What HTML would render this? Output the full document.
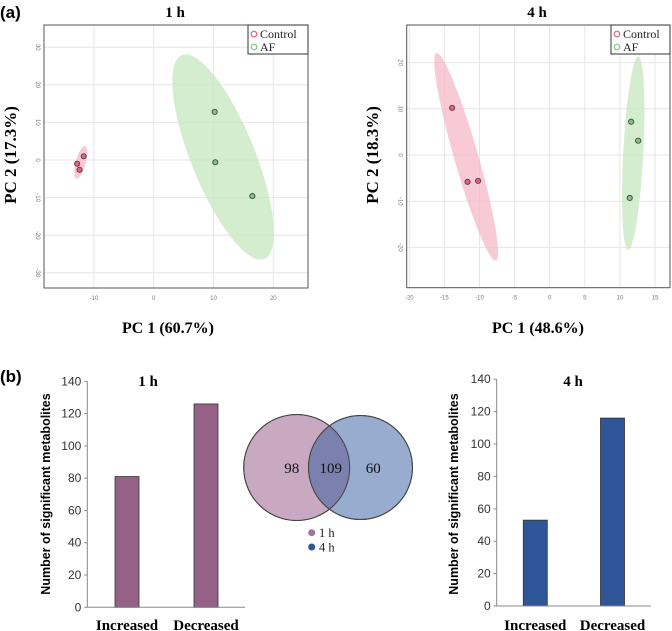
<!DOCTYPE html>
<html><head><meta charset="utf-8">
<style>
html,body{margin:0;padding:0;background:#fff;}
svg{display:block;}
.serif{font-family:"Liberation Serif",serif;}
.sans{font-family:"Liberation Sans",sans-serif;}
</style></head>
<body>
<svg id="fig" width="672" height="631" viewBox="0 0 672 631" xmlns="http://www.w3.org/2000/svg">
<text x="0" y="18" class="sans" font-weight="bold" font-size="17">(a)</text>
<text x="0" y="382" class="sans" font-weight="bold" font-size="17">(b)</text>
<g id="pca1"></g>
<g id="pca4"></g>
<g id="bar1"></g>
<g id="bar4"></g>
<g id="venn"></g>
</svg>
<script>
// ---- PCA 1 h data ----
const pca1XTicks = [-10, 0, 10, 20];
const pca1YTicks = [30, 20, 10, 0, -10, -20, -30];
const pca1ControlX = [-11.7, -12.8, -12.4];
const pca1ControlY = [1.0, -1.0, -2.6];
const pca1AfX = [10.2, 10.3, 16.5];
const pca1AfY = [12.8, -0.6, -9.6];
// ellipses: center x, center y (data units)
const pca1CtrlEllipse = [-12.2, -0.6];
const pca1AfEllipse = [11.6, 0.8];
// ---- PCA 4 h data ----
const pca4XTicks = [-20, -15, -10, -5, 0, 5, 10, 15];
const pca4YTicks = [20, 10, 0, -10, -20];
const pca4ControlX = [-13.9, -11.7, -10.2];
const pca4ControlY = [10.2, -5.8, -5.6];
const pca4AfX = [11.6, 12.6, 11.4];
const pca4AfY = [7.2, 3.1, -9.3];
const pca4CtrlEllipse = [-11.9, -0.4];
const pca4AfEllipse = [11.9, 0.4];
// ---- Bar charts ----
const barCategories = ["Increased", "Decreased"];
const bar1Values = [81, 126];
const bar4Values = [53, 116];
const barTicks = [0, 20, 40, 60, 80, 100, 120, 140];
// ---- Venn ----
const vennCounts = [98, 109, 60];
const vennLegend = ["1 h", "4 h"];

const NS = "http://www.w3.org/2000/svg";
function mk(parent, tag, attrs, text){
  const e = document.createElementNS(NS, tag);
  for (const k in attrs) e.setAttribute(k, attrs[k]);
  if (text !== undefined) e.textContent = text;
  parent.appendChild(e);
  return e;
}

function pca(g, cfg){
  const sx = v => cfg.x0 + (v - cfg.xa) * cfg.kx;
  const sy = v => cfg.y0 - (v - cfg.ya) * cfg.ky;
  let r = mk(g,'rect',{x:cfg.L,y:cfg.T,width:cfg.R-cfg.L,height:cfg.B-cfg.T,fill:'#fff',stroke:'none'});
  
  
  cfg.xt.forEach(t=>{
    const l = mk(g,'line',{x1:sx(t),x2:sx(t),y1:cfg.T,y2:cfg.B,stroke:'#e6e6e6','stroke-width':1});
    
    
    const tx = mk(g,'text',{x:sx(t),y:cfg.B+12,'font-size':6,fill:'#777','text-anchor':'middle',class:'sans'},String(t));
    
    
  });
  cfg.yt.forEach(t=>{
    const l = mk(g,'line',{x1:cfg.L,x2:cfg.R,y1:sy(t),y2:sy(t),stroke:'#e6e6e6','stroke-width':1});
    
    
    const tx = mk(g,'text',{x:cfg.L-8,y:sy(t),'font-size':6,fill:'#777','text-anchor':'middle',class:'sans',transform:`rotate(90 ${cfg.L-8} ${sy(t)})`},String(t));
    
    
  });
  // ellipses
  const e1 = mk(g,'ellipse',{cx:0,cy:0,rx:cfg.ce[2],ry:cfg.ce[3],fill:'#f4b8c8','fill-opacity':0.75,transform:`translate(${sx(cfg.ceC[0])} ${sy(cfg.ceC[1])}) rotate(${cfg.ce[4]})`});
  
  
  const e2 = mk(g,'ellipse',{cx:0,cy:0,rx:cfg.ae[2],ry:cfg.ae[3],fill:'#c9e8c3','fill-opacity':0.8,transform:`translate(${sx(cfg.aeC[0])} ${sy(cfg.aeC[1])}) rotate(${cfg.ae[4]})`});
  
  
  cfg.cx.forEach((v,i)=>{
    const c = mk(g,'circle',{cx:sx(v),cy:sy(cfg.cy[i]),r:2.6,fill:'#e8607e',stroke:'#444','stroke-width':0.9});
    
    
  });
  cfg.ax.forEach((v,i)=>{
    const c = mk(g,'circle',{cx:sx(v),cy:sy(cfg.ay[i]),r:2.6,fill:'#7cc878',stroke:'#444','stroke-width':0.9});
    
    
  });
  const fr = mk(g,'rect',{x:cfg.L,y:cfg.T,width:cfg.R-cfg.L,height:cfg.B-cfg.T,fill:'none',stroke:'#555','stroke-width':1});
  
  
  // legend
  const lg = mk(g,'g',{});
  
  
  mk(lg,'rect',{x:cfg.lgx,y:cfg.T,width:cfg.R-cfg.lgx,height:29,fill:'#fff',stroke:'#333','stroke-width':1});
  const l1 = mk(lg,'circle',{cx:cfg.lgx+6,cy:cfg.T+9,r:2.8,fill:'none',stroke:'#e8607e','stroke-width':1.2});
  
  
  const t1 = mk(lg,'text',{x:cfg.lgx+12,y:cfg.T+13,'font-size':12,class:'serif',fill:'#222'},'Control');
  
  
  const l2 = mk(lg,'circle',{cx:cfg.lgx+6,cy:cfg.T+22,r:2.8,fill:'none',stroke:'#7cc878','stroke-width':1.2});
  
  
  const t2 = mk(lg,'text',{x:cfg.lgx+12,y:cfg.T+26,'font-size':12,class:'serif',fill:'#222'},'AF');
  
  
  const tt = mk(g,'text',{x:cfg.titleX,y:17,'font-size':15,'font-weight':'bold','text-anchor':'middle',class:'serif'},cfg.title);
  
  
  const yl = mk(g,'text',{x:cfg.ylx,y:155,'font-size':17,'font-weight':'bold','text-anchor':'middle',class:'serif',transform:`rotate(-90 ${cfg.ylx} 155)`},cfg.ylabel);
  
  
  const xl = mk(g,'text',{x:cfg.xlx,y:333,'font-size':16,'font-weight':'bold','text-anchor':'middle',class:'serif'},cfg.xlabel);
  
  
}

pca(document.getElementById('pca1'),{
  L:44,R:308,T:25,B:288, x0:153.7,xa:0,kx:5.98, y0:160,ya:0,ky:3.76,
  xt:pca1XTicks, yt:pca1YTicks, cx:pca1ControlX, cy:pca1ControlY, ax:pca1AfX, ay:pca1AfY,
  ceC:pca1CtrlEllipse, ce:[0,0,5,17,15], aeC:pca1AfEllipse, ae:[0,0,32,110,-22],
  lgx:248, title:'1 h', titleX:175, ylabel:'PC 2 (17.3%)', ylx:16, xlabel:'PC 1 (60.7%)', xlx:168
});
pca(document.getElementById('pca4'),{
  L:406.7,R:670,T:25,B:287.7, x0:549.7,xa:0,kx:7.02, y0:155,ya:0,ky:4.62,
  xt:pca4XTicks, yt:pca4YTicks, cx:pca4ControlX, cy:pca4ControlY, ax:pca4AfX, ay:pca4AfY,
  ceC:pca4CtrlEllipse, ce:[0,0,12,108,-16], aeC:pca4AfEllipse, ae:[0,0,10,97,3],
  lgx:611, title:'4 h', titleX:537, ylabel:'PC 2 (18.3%)', ylx:378, xlabel:'PC 1 (48.6%)', xlx:538
});

function bars(g, cfg){
  const sy = v => cfg.y0 - v * cfg.k;
  cfg.ticks.forEach(t=>{
    const tx = mk(g,'text',{x:cfg.ax-6,y:sy(t)+4,'font-size':12,'text-anchor':'end',class:'sans',fill:'#333'},String(t));
    
    
    const tk = mk(g,'line',{x1:cfg.ax-3,x2:cfg.ax,y1:sy(t),y2:sy(t),stroke:'#888'});
    
    
  });
  const ya = mk(g,'line',{x1:cfg.ax,x2:cfg.ax,y1:sy(140),y2:cfg.y0,stroke:'#888','stroke-width':1});
  
  
  cfg.vals.forEach((v,i)=>{
    const b = mk(g,'rect',{x:cfg.bx[i],y:sy(v),width:24,height:v*cfg.k,fill:cfg.color,stroke:'#333','stroke-width':0.8});
    
    
    const l = mk(g,'text',{x:cfg.bx[i]+12,y:630,'font-size':15,'font-weight':'bold','text-anchor':'middle',class:'serif'},cfg.cats[i]);
    
    
  });
  const xa = mk(g,'line',{x1:cfg.ax,x2:cfg.axEnd,y1:cfg.y0,y2:cfg.y0,stroke:'#888','stroke-width':1});
  
  
  const tt = mk(g,'text',{x:cfg.tx,y:386,'font-size':15,'font-weight':'bold','text-anchor':'middle',class:'serif'},cfg.title);
  
  
  const yl = mk(g,'text',{x:cfg.ylx,y:494,'font-size':12.5,'font-weight':'bold','text-anchor':'middle',class:'sans',transform:`rotate(-90 ${cfg.ylx} 494)`},cfg.ylabel);
  
  
}
bars(document.getElementById('bar1'),{y0:607.3,k:1.614,ax:87.3,axEnd:245,bx:[115,194],vals:bar1Values,cats:barCategories,ticks:barTicks,color:'#956186',title:'1 h',tx:148,ylx:50,ylabel:'Number of significant metabolites'});
bars(document.getElementById('bar4'),{y0:606,k:1.62,ax:496.7,axEnd:651,bx:[523.3,600.5],vals:bar4Values,cats:barCategories,ticks:barTicks,color:'#2e5597',title:'4 h',tx:573,ylx:458,ylabel:'Number of significant  metabolites'});

(function(){
  const g = document.getElementById('venn');
  const c1 = mk(g,'circle',{cx:296.7,cy:467.5,r:53,fill:'#c9a8c2',stroke:'#444','stroke-width':1});
  
  
  const c2 = mk(g,'circle',{cx:360.5,cy:467.5,r:52,fill:'#98acd0',stroke:'#444','stroke-width':1});
  
  
  const defs = mk(g,'defs',{});
  const cp = mk(defs,'clipPath',{id:'clipL'});
  mk(cp,'circle',{cx:296.7,cy:467.5,r:53});
  const ov = mk(g,'circle',{cx:360.5,cy:467.5,r:52,fill:'#7b80ae','clip-path':'url(#clipL)'});
  
  
  mk(g,'circle',{cx:296.7,cy:467.5,r:53,fill:'none',stroke:'#444','stroke-width':1});
  mk(g,'circle',{cx:360.5,cy:467.5,r:52,fill:'none',stroke:'#444','stroke-width':1});
  const xs = [291.7, 330.7, 373.3];
  vennCounts.forEach((v,i)=>{
    const t = mk(g,'text',{x:xs[i],y:473,'font-size':15,'text-anchor':'middle',class:'serif',fill:'#111'},String(v));
    
    
  });
  const cols = ['#a3739b','#2e5597'];
  vennLegend.forEach((s,i)=>{
    const d = mk(g,'circle',{cx:311.7,cy:532.7+i*14.3,r:3.5,fill:cols[i]});
    
    
    const t = mk(g,'text',{x:319,y:537+i*14.3,'font-size':12.5,class:'serif',fill:'#222'},s);
    
    
  });
})();
</script>
</body></html>
